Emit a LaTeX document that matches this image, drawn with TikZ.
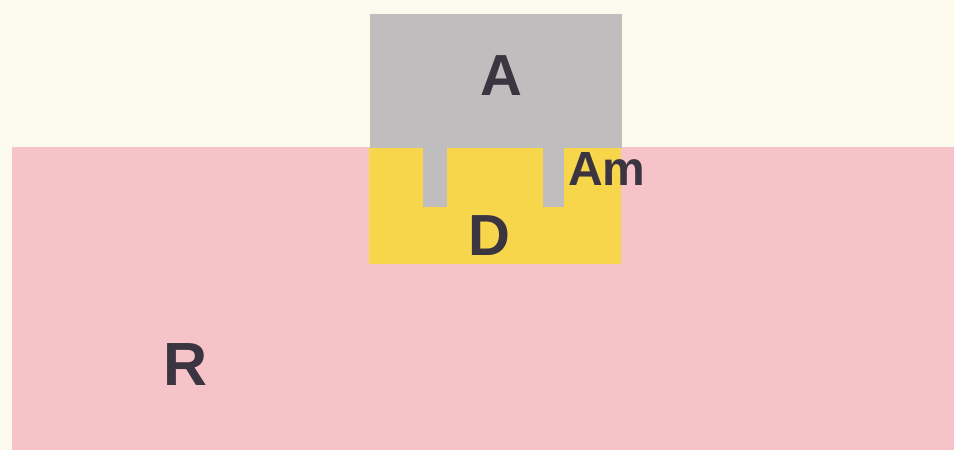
\documentclass[tikz,border=0pt]{standalone}
\usepackage{fontspec}
\setmainfont{Liberation Sans}
\definecolor{bgc}{HTML}{FCFAEC}
\definecolor{pinkc}{HTML}{F5C3C8}
\definecolor{grayc}{HTML}{BFBDBE}
\definecolor{yelc}{HTML}{F8D64C}
\definecolor{txtc}{HTML}{3A3540}
\tikzset{lbl/.style={text=txtc,font=\bfseries\fontsize{58}{58}\selectfont,inner sep=0pt,anchor=base}}
\begin{document}
\begin{tikzpicture}[x=1pt,y=-1pt]
\fill[bgc] (0,0) rectangle (954,450);
\useasboundingbox (0,0) rectangle (954,450);
\fill[pinkc] (12,147) rectangle (954,450);
\fill[grayc] (370,14) rectangle (622,148);
\fill[yelc] (369,148) rectangle (621,264);
\fill[grayc] (423,147) rectangle (447,207);
\fill[grayc] (543,147) rectangle (564,207);
\node[lbl] (A) at (501,95) {A};
\node[lbl] (D) at (489,255) {D};
\node[lbl,font=\bfseries\fontsize{61}{61}\selectfont] (R) at (186,385) {R};
\node[lbl,font=\bfseries\fontsize{48}{48}\selectfont] (Am) at (607,185) {Am};
\end{tikzpicture}
\end{document}
